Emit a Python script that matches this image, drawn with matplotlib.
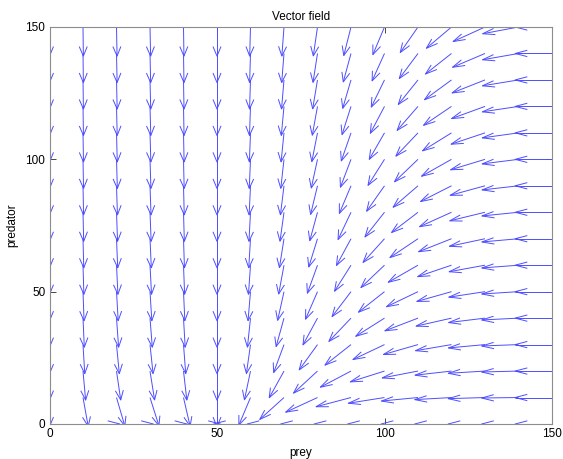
import numpy as np
import matplotlib
matplotlib.use("Agg")
import matplotlib.pyplot as plt
from matplotlib.collections import LineCollection

plt.rcParams['font.family'] = ['Liberation Sans', 'DejaVu Sans']

# grid of the field
prey = [0, 10, 20, 30, 40, 50, 60, 70, 80, 90, 100, 110, 120, 130, 140, 150]
predator = [0, 10, 20, 30, 40, 50, 60, 70, 80, 90, 100, 110, 120, 130, 140, 150]

# model
growth = 1.0          # prey growth rate
capacity = 50.0       # prey carrying capacity
conversion = 0.04     # predator gain per prey
threshold = 150.0     # prey level where predators stop declining

arrow_len = 11.0      # arrow length in data units
alpha, beta = 0.33, 0.33   # arrowhead size (matlab quiver)

X, Y = np.meshgrid(prey, predator)
X = X.astype(float)
Y = Y.astype(float)
U = growth * X * (1 - X / capacity)
V = conversion * Y * (X - threshold)
L = np.hypot(U, V)
ok = L > 0
U = np.where(ok, U / np.where(ok, L, 1), np.nan) * arrow_len
V = np.where(ok, V / np.where(ok, L, 1), np.nan) * arrow_len

segs = []
for x, y, u, v in zip(X.ravel(), Y.ravel(), U.ravel(), V.ravel()):
    if np.isnan(u):
        continue
    tx, ty = x + u, y + v
    segs.append([(x, y), (tx, ty)])
    segs.append([(tx - alpha * (u + beta * v), ty - alpha * (v - beta * u)),
                 (tx, ty),
                 (tx - alpha * (u - beta * v), ty - alpha * (v + beta * u))])

fig = plt.figure(figsize=(5.63, 4.59), dpi=100)
ax = fig.add_axes([49.5 / 563, 35 / 459, 502.5 / 563, 397 / 459])
ax.add_collection(LineCollection(segs, colors=[(0.3, 0.3, 1.0)], linewidths=0.7))

ax.set_xlim(0, 150)
ax.set_ylim(0, 150)
ax.set_xticks([0, 50, 100, 150])
ax.set_yticks([0, 50, 100, 150])
ax.tick_params(direction='in', length=4, width=0.5, top=True, right=True,
               labelsize=8.5, colors='black', pad=3)
for s in ax.spines.values():
    s.set_linewidth(0.8)
    s.set_color('#8c8c8c')

ax.set_title('Vector field', fontsize=8.5, pad=5)
ax.set_xlabel('prey', fontsize=8.5, labelpad=5)
ax.set_ylabel('predator', fontsize=8.5, labelpad=5)

fig.savefig('out.png', dpi=100)
